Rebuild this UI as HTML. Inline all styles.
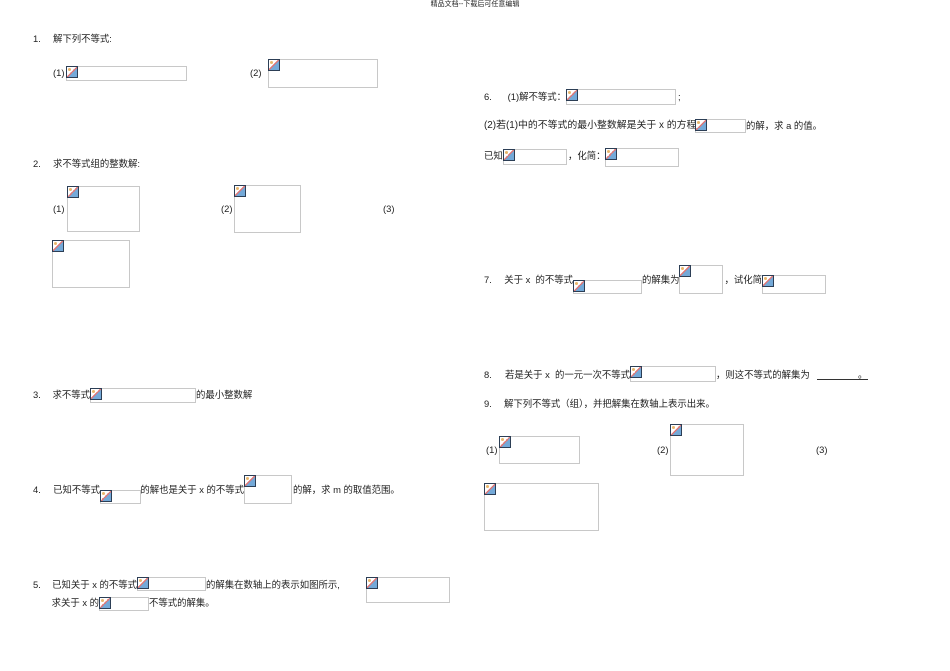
<!DOCTYPE html>
<html><head><meta charset="utf-8"><style>
body{margin:0;width:950px;height:671px;background:#fff;position:relative;overflow:hidden;font-family:"Liberation Sans","Noto Sans CJK SC",sans-serif;color:#222}
.t{position:absolute;font-size:9.4px;line-height:10px;white-space:nowrap}
.r{position:absolute;font-size:9.4px;line-height:10px;white-space:nowrap;text-align:right}
.b{position:absolute;border:1px solid #c8c8c8;box-sizing:border-box}
.b i{position:absolute;left:-1px;top:-1px;width:12px;height:12px;box-sizing:border-box;border:1px solid #2c3e55;background:linear-gradient(135deg,#fff 0 45%,#d77 45% 55%,#74a9d8 55%)}
.b i:before{content:"";position:absolute;left:1px;top:1px;width:3px;height:3px;border-radius:50%;background:#e9b66b}
</style></head><body>
<div class="t" style="left:0;width:950px;text-align:center;top:0;font-size:7px">精品文档--下载后可任意编辑</div>

<div class="t" style="left:33px;top:34px">1.</div><div class="t" style="left:53px;top:34px">解下列不等式:</div>
<div class="t" style="left:53px;top:68px">(1)</div><div class="b" style="left:66px;top:66px;width:121px;height:15px"><i></i></div>
<div class="t" style="left:250px;top:68px">(2)</div><div class="b" style="left:268px;top:59px;width:110px;height:29px"><i></i></div>

<div class="t" style="left:33px;top:159px">2.</div><div class="t" style="left:53px;top:159px">求不等式组的整数解:</div>
<div class="t" style="left:53px;top:204px">(1)</div><div class="b" style="left:67px;top:186px;width:73px;height:46px"><i></i></div>
<div class="t" style="left:221px;top:204px">(2)</div><div class="b" style="left:234px;top:185px;width:67px;height:48px"><i></i></div>
<div class="t" style="left:383px;top:204px">(3)</div>
<div class="b" style="left:52px;top:240px;width:78px;height:48px"><i></i></div>

<div class="t" style="left:33px;top:390px">3.</div><div class="r" style="right:860px;top:390px">求不等式</div><div class="b" style="left:90px;top:388px;width:106px;height:15px"><i></i></div><div class="t" style="left:196px;top:390px">的最小整数解</div>

<div class="t" style="left:33px;top:485px">4.</div><div class="r" style="right:850px;top:485px">已知不等式</div><div class="b" style="left:100px;top:490px;width:41px;height:14px"><i></i></div>
<div class="r" style="right:706px;top:485px">的解也是关于 x 的不等式</div><div class="b" style="left:244px;top:475px;width:48px;height:29px"><i></i></div>
<div class="t" style="left:293px;top:485px">的解，求 m 的取值范围。</div>

<div class="t" style="left:33px;top:580px">5.</div><div class="r" style="right:813px;top:580px">已知关于 x 的不等式</div><div class="b" style="left:137px;top:577px;width:69px;height:14px"><i></i></div>
<div class="t" style="left:206px;top:580px">的解集在数轴上的表示如图所示,</div>
<div class="b" style="left:366px;top:577px;width:84px;height:26px"><i></i></div>
<div class="r" style="right:851px;top:598px">求关于 x 的</div><div class="b" style="left:99px;top:597px;width:50px;height:14px"><i></i></div><div class="t" style="left:149px;top:598px">不等式的解集。</div>

<div class="t" style="left:484px;top:92px">6.</div><div class="r" style="right:384px;top:92px">(1)解不等式：</div><div class="b" style="left:566px;top:89px;width:110px;height:16px"><i></i></div><div class="t" style="left:678px;top:92px">;</div>
<div class="t" style="left:484px;top:121px;font-size:9.9px">(2)若(1)中的不等式的最小整数解是关于 x 的方程</div><div class="b" style="left:695px;top:119px;width:51px;height:14px"><i></i></div><div class="t" style="left:746px;top:121px">的解，求 a 的值。</div>
<div class="t" style="left:484px;top:151px">已知</div><div class="b" style="left:503px;top:149px;width:64px;height:16px"><i></i></div><div class="t" style="left:568px;top:151px">，化简：</div><div class="b" style="left:605px;top:148px;width:74px;height:19px"><i></i></div>

<div class="t" style="left:484px;top:275px">7.</div><div class="r" style="right:377px;top:275px">关于 x&nbsp; 的不等式</div><div class="b" style="left:573px;top:280px;width:69px;height:14px"><i></i></div>
<div class="t" style="left:642px;top:275px">的解集为</div><div class="b" style="left:679px;top:265px;width:44px;height:29px"><i></i></div>
<div class="r" style="right:188px;top:275px">，试化简</div><div class="b" style="left:762px;top:275px;width:64px;height:19px"><i></i></div>

<div class="t" style="left:484px;top:370px">8.</div><div class="r" style="right:320px;top:370px">若是关于 x&nbsp; 的一元一次不等式</div><div class="b" style="left:630px;top:366px;width:86px;height:16px"><i></i></div>
<div class="t" style="left:716px;top:370px">，则这不等式的解集为</div>
<div style="position:absolute;left:817px;top:379px;width:51px;border-top:1px solid #333"></div><div class="t" style="left:858px;top:370px">。</div>
<div class="t" style="left:484px;top:399px">9.</div><div class="t" style="left:504px;top:399px">解下列不等式（组），并把解集在数轴上表示出来。</div>
<div class="t" style="left:486px;top:445px">(1)</div><div class="b" style="left:499px;top:436px;width:81px;height:28px"><i></i></div>
<div class="t" style="left:657px;top:445px">(2)</div><div class="b" style="left:670px;top:424px;width:74px;height:52px"><i></i></div>
<div class="t" style="left:816px;top:445px">(3)</div>
<div class="b" style="left:484px;top:483px;width:115px;height:48px"><i></i></div>
</body></html>
